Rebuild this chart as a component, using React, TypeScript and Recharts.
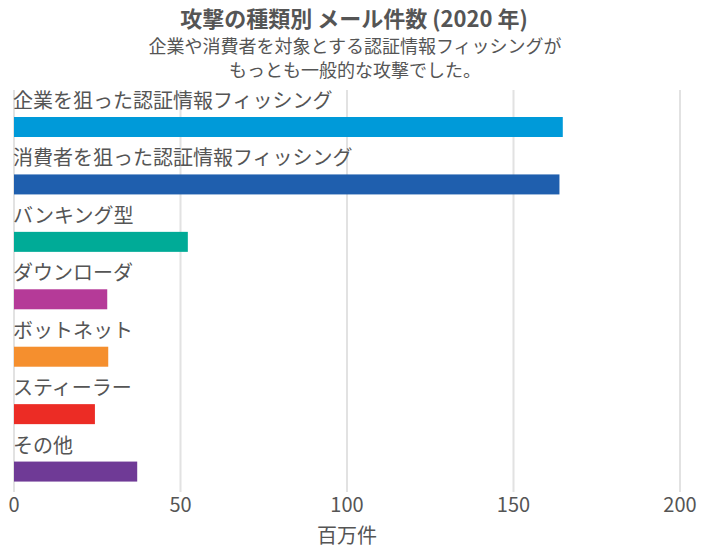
import React from "react";
import { BarChart, Bar, XAxis, YAxis, CartesianGrid, Cell, LabelList, Label } from "recharts";

const categories = [
  "企業を狙った認証情報フィッシング",
  "消費者を狙った認証情報フィッシング",
  "バンキング型",
  "ダウンローダ",
  "ボットネット",
  "スティーラー",
  "その他",
];
const values = [164.8, 163.8, 52.2, 28.0, 28.3, 24.3, 37.0];
const colors = ["#009ad9", "#1f5fae", "#00ab97", "#b53a98", "#f58f2e", "#ec2c25", "#6f3a96"];
const xTicks = [0, 50, 100, 150, 200];

const title = "攻撃の種類別 メール件数 (2020 年)";
const subtitle1 = "企業や消費者を対象とする認証情報フィッシングが";
const subtitle2 = "もっとも一般的な攻撃でした。";
const xLabel = "百万件";

const data = categories.map((name, i) => ({ name, value: values[i] }));

const FONT = "'Noto Sans CJK JP', 'Noto Sans', sans-serif";
const TEXT = "#555555";
const SHIFT = 8;

const BarShape = (props: any) => {
  const { x, y, width, height, fill } = props;
  return <rect x={x} y={y + SHIFT} width={width} height={height} fill={fill} />;
};

const CatLabel = (props: any) => {
  const { y, value } = props;
  return (
    <text x={13} y={y + SHIFT - 9} fontSize={20} fill={TEXT} fontFamily={FONT} textAnchor="start">
      {value}
    </text>
  );
};

export default function App() {
  return (
    <div style={{ position: "absolute", left: 0, top: 0, width: 710, height: 551, background: "#fff" }}>
      <svg width={710} height={551} style={{ position: "absolute", left: 0, top: 0 }}>
        <text x={354} y={27} textAnchor="middle" fontSize={22} fontWeight="bold" fill={TEXT} fontFamily={FONT}>
          {title}
        </text>
        <text x={355} y={53} textAnchor="middle" fontSize={18} fill={TEXT} fontFamily={FONT}>
          {subtitle1}
        </text>
        <text x={355} y={77} textAnchor="middle" fontSize={18} fill={TEXT} fontFamily={FONT}>
          {subtitle2}
        </text>
      </svg>
      <div style={{ position: "absolute", left: 0, top: 0 }}>
        <BarChart
          width={710}
          height={551}
          data={data}
          layout="vertical"
          margin={{ top: 90, right: 30, bottom: 0, left: 14 }}
          barSize={20}
        >
          <CartesianGrid horizontal={false} stroke="#e2e2e2" strokeWidth={2} />
          <XAxis
            type="number"
            domain={[0, 200]}
            ticks={xTicks}
            axisLine={false}
            tickLine={false}
            height={59}
            tickMargin={0}
            tick={{ fontSize: 20, fill: TEXT, fontFamily: FONT }}
            interval={0}
          >
            <Label value={xLabel} position="insideBottom" offset={8} fontSize={20} fill={TEXT} fontFamily={FONT} />
          </XAxis>
          <YAxis type="category" dataKey="name" hide width={0} />
          <Bar dataKey="value" isAnimationActive={false} shape={<BarShape />}>
            {data.map((d, i) => (
              <Cell key={d.name} fill={colors[i]} />
            ))}
            <LabelList dataKey="name" content={<CatLabel />} />
          </Bar>
        </BarChart>
      </div>
    </div>
  );
}
